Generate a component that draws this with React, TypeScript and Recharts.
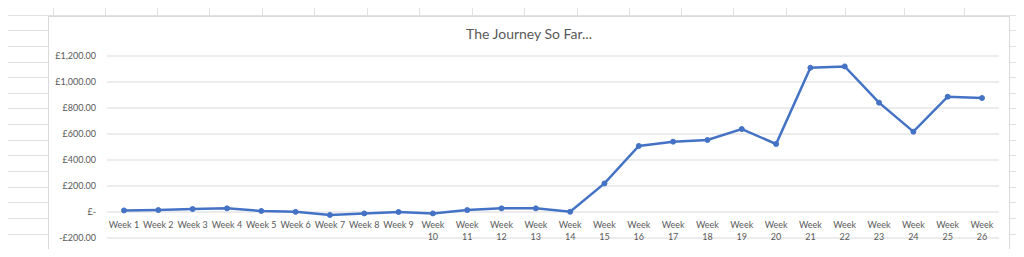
import { LineChart, Line, XAxis, YAxis, CartesianGrid } from "recharts";

const weeks = [
  "Week 1", "Week 2", "Week 3", "Week 4", "Week 5", "Week 6", "Week 7", "Week 8", "Week 9",
  "Week 10", "Week 11", "Week 12", "Week 13", "Week 14", "Week 15", "Week 16", "Week 17",
  "Week 18", "Week 19", "Week 20", "Week 21", "Week 22", "Week 23", "Week 24", "Week 25", "Week 26",
];

const totals = [
  12, 15, 23, 28, 8, 1, -23, -11, 0, -11, 15, 28, 28, 2, 220, 508, 541, 554, 638, 523,
  1110, 1120, 841, 618, 887, 877,
];

const yTicks = [-200, 0, 200, 400, 600, 800, 1000, 1200];

// spreadsheet column lines behind the chart
const sheetCols = [53, 105, 157, 209, 262, 314, 367, 419, 472, 524, 577, 629, 681, 733, 786, 845, 904, 964];

const data = weeks.map((week, i) => ({ week, total: totals[i] }));

const FONT = "Lato, 'Liberation Sans', sans-serif";
const TEXT = "#595959";

const money = (v: number) => {
  if (v === 0) return "£-";
  const s = "£" + Math.abs(v).toLocaleString("en-GB", { minimumFractionDigits: 2, maximumFractionDigits: 2 });
  return v < 0 ? "-" + s : s;
};

const WeekTick = (props: any) => {
  const { x, y, payload } = props;
  const [word, num] = String(payload.value).split(" ");
  const wrap = num.length > 1;
  return (
    <text x={x} y={y - 10} textAnchor="middle" fill={TEXT} fontSize={9} fontFamily={FONT}>
      {wrap ? (
        <>
          <tspan x={x}>{word}</tspan>
          <tspan x={x} dy={11.7}>{num}</tspan>
        </>
      ) : (
        payload.value
      )}
    </text>
  );
};

export default function App() {
  return (
    <div
      style={{
        position: "relative",
        width: 1024,
        height: 257,
        margin: -8,
        overflow: "hidden",
        background: "#fff",
        backgroundImage:
          "repeating-linear-gradient(to bottom, transparent 0px, transparent 14.64px, #e1e1e1 14.64px, #e1e1e1 15.64px)",
      }}
    >
      {sheetCols.map((x) => (
        <div key={x} style={{ position: "absolute", left: x, top: 0, width: 1, height: 257, background: "#e1e1e1" }} />
      ))}
      <div
        style={{
          position: "absolute",
          left: 48,
          top: 16,
          width: 962,
          height: 234,
          boxSizing: "border-box",
          border: "1px solid #d9d9d9",
          background: "#fff",
        }}
      >
        <div
          style={{
            position: "absolute",
            top: 8,
            left: 0,
            width: "100%",
            textAlign: "center",
            fontFamily: FONT,
            fontSize: 14,
            lineHeight: "18px",
            color: TEXT,
          }}
        >
          The Journey So Far...
        </div>
        <LineChart width={960} height={232} data={data} margin={{ top: 39, right: 10, left: 0, bottom: 0 }}>
          <CartesianGrid vertical={false} stroke="#d9d9d9" />
          <XAxis
            dataKey="week"
            height={11}
            axisLine={false}
            tickLine={false}
            tickSize={0}
            tickMargin={0}
            interval={0}
            padding={{ left: 17, right: 17 }}
            tick={<WeekTick />}
          />
          <YAxis
            width={58}
            domain={[-200, 1200]}
            ticks={yTicks}
            axisLine={false}
            tickLine={false}
            tickSize={9}
            tickFormatter={money}
            tick={{ fontSize: 9, fill: TEXT, fontFamily: FONT }}
          />
          <Line
            dataKey="total"
            stroke="#4472c4"
            strokeWidth={2.5}
            dot={{ r: 2.5, fill: "#4472c4", stroke: "#4472c4", strokeWidth: 1 }}
            isAnimationActive={false}
          />
        </LineChart>
      </div>
    </div>
  );
}
